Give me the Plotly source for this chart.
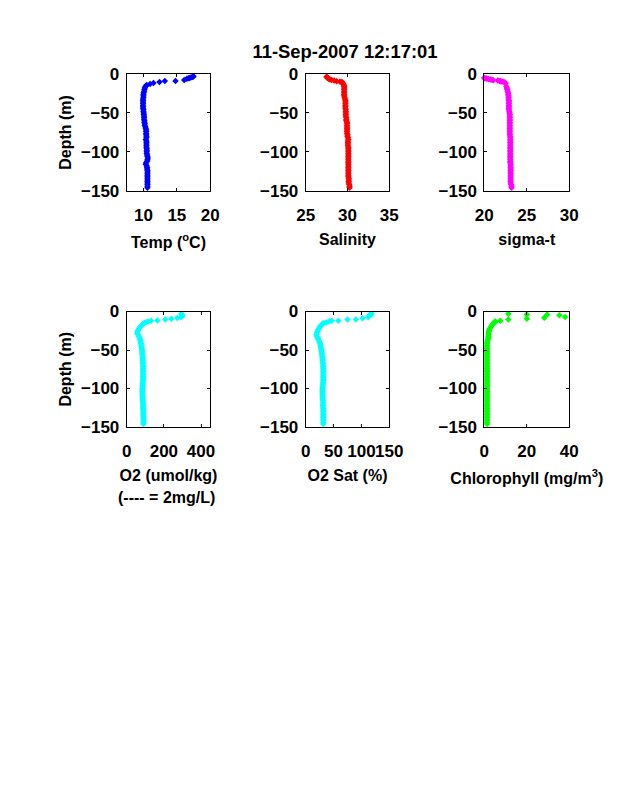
import plotly.graph_objects as go

tail_depth = [16,18,20,22,24,26,28,30,32,34,36,38,40,42,44,46,48,50,52,54,56,58,60,62,64,66,68,70,72,74,76,78,80,82,84,86,88,90,92,94,96,98,100,102,104,106,108,110,112,114,116,118,120,122,124,126,128,130,132,134,136,138,140,142,144,146]

temp_depth = [3,3.5,4,4.5,5,5.5,6,7.7,9,9,10.3,11.5,12.8,14,15] + tail_depth
temp = [17.5,17.4,17.3,17.1,16.9,16.7,16.5,16.1,14.8,13.2,12.4,11.5,11.0,10.5,10.4,
        10.3,10.2,10.15,10.1,10.05,10.0,10.0,10.0,9.95,9.95,
        9.95,9.95,9.95,9.95,9.95,10.0,10.0,10.05,10.05,10.1,
        10.1,10.1,10.15,10.15,10.2,10.2,10.3,10.35,10.4,10.4,
        10.4,10.4,10.45,10.45,10.35,10.45,10.45,10.45,10.45,10.45,
        10.5,10.5,10.5,10.5,10.55,10.6,10.65,10.6,10.55,10.4,
        10.35,10.5,10.55,10.55,10.6,10.6,10.6,10.6,10.6,10.6,
        10.6,10.6,10.6,10.6,10.6,10.6]

sal_depth = [3.4,4,5,5.5,6.4,7,7.7,8.5,9.4,10,10.3,11,12.8,14,15] + tail_depth
salinity = [27.5,27.5,27.6,27.7,27.8,27.9,28.1,28.4,28.7,29.1,29.3,29.4,29.5,29.55,29.6,
            29.6,29.6,29.6,29.6,29.6,29.6,29.6,29.65,29.7,29.75,
            29.75,29.75,29.75,29.75,29.75,29.8,29.8,29.8,29.8,29.8,
            29.85,29.85,29.85,29.95,29.95,29.95,29.95,29.95,29.95,29.95,
            29.95,30.0,30.0,30.05,30.1,30.05,30.05,30.05,30.05,30.1,
            30.1,30.1,30.1,30.1,30.1,30.1,30.1,30.1,30.1,30.1,
            30.1,30.1,30.1,30.1,30.1,30.1,30.1,30.1,30.1,30.15,
            30.15,30.15,30.15,30.2,30.25,30.25]

sigma_depth = [5,5,5.5,6,6.5,7,7.5,8,8.5,9,9.4,9.6,10,10.7,12] + tail_depth
sigma = [20.0,20.0,20.2,20.3,20.5,20.7,20.9,21.05,21.6,21.8,21.9,22.0,22.2,22.4,22.5,
         22.6,22.65,22.7,22.75,22.8,22.8,22.85,22.85,22.85,22.9,
         22.9,22.9,22.9,22.9,22.9,22.9,22.95,22.95,23.0,23.0,
         23.0,23.0,23.0,23.0,23.0,23.0,23.0,23.0,23.0,23.0,
         23.0,23.0,23.05,23.05,23.05,23.05,23.05,23.05,23.05,23.05,
         23.05,23.05,23.05,23.05,23.05,23.05,23.05,23.05,23.05,23.05,
         23.1,23.1,23.1,23.1,23.1,23.1,23.1,23.1,23.1,23.1,
         23.1,23.1,23.1,23.15,23.2,23.2]

o2_depth = [3,4,5,5.5,6,6.5,7,8.5,9.5,10.4,11.7,12,13,14,15] + tail_depth
oxygen = [295,296,297,298,297,296,292,272,240,208,165,131,115,104,95,
          88,80,72,66,62,58,57,60,65,69,
          72,74,75,77,78,79,81,82,83,83,
          84,85,85,86,86,87,87,88,88,88,
          88,88,88,88,88,88,88,87,87,86,
          86,85,85,84,84,84,84,85,85,86,
          86,87,88,88,88,88,89,89,89,89,
          90,90,90,90,90,90]

sat_depth = [3,3.5,4,4.5,5,6,7.4,8.7,10.4,10.4,12,12,13,14,15] + tail_depth
oxygen_sat = [118,117,116,116,115,114,112,102,90,75,58.5,46.6,42,37.5,33,
              30,28,25,24,22,21,20,19.6,20,21.5,
              22.5,24,25,26,26.5,27,27.5,28,28.5,29,
              29,29.5,30,30,30.5,30.5,31,31,31,31.5,
              31.5,31.5,31.5,31.5,31.5,31.5,31.5,31.5,31,31,
              30.5,30.5,30,30,30,30,30,30.5,30.5,30.5,
              31,31,31,31,31,31.5,31.5,31.5,31.5,31.5,
              31.5,31.5,31.5,31.5,31.5,31.5]

chl_depth = [3,4,4,5,7,8,9.5,10.4,12,13,13.5,14,14.5,15,15.5] + tail_depth
chlorophyll = [11.3,20,29.6,35.3,38,28.2,20,11.3,7.5,5.2,5,4.8,4.6,4.5,4.3,
               4.2,3.6,3.0,2.6,2.3,2.1,2.0,2.0,1.9,1.9,
               1.7,1.5,1.4,1.3,1.3,1.3,1.3,1.3,1.3,1.3,
               1.3,1.3,1.3,1.3,1.3,1.3,1.3,1.3,1.3,1.3,
               1.3,1.3,1.3,1.3,1.3,1.3,1.3,1.3,1.3,1.3,
               1.3,1.3,1.3,1.3,1.3,1.3,1.3,1.3,1.3,1.3,
               1.3,1.3,1.3,1.3,1.3,1.3,1.3,1.3,1.3,1.3,
               1.3,1.3,1.3,1.3,1.3,1.3]

titles = ["Temp (<sup>o</sup>C)", "Salinity", "sigma-t", "O2 (umol/kg)", "O2 Sat (%)", "Chlorophyll (mg/m<sup>3</sup>)"]
colors = ["#0000ff", "#ff0000", "#ff00ff", "#00ffff", "#00ffff", "#00ff00"]
xranges = [[7.5, 20], [25, 35], [20, 30], [0, 450], [0, 150], [0, 40]]
xticks = [[10, 15, 20], [25, 30, 35], [20, 25, 30], [0, 200, 400], [0, 50, 100, 150], [0, 20, 40]]
yticks = [0, -50, -100, -150]
xvals = [temp, salinity, sigma, oxygen, oxygen_sat, chlorophyll]
yvals = [temp_depth, sal_depth, sigma_depth, o2_depth, sat_depth, chl_depth]

W, H = 638, 788
lefts = [(126.7, 210.3), (305.7, 389.3), (484.3, 569.3)]
rows = [(74, 190.8), (311.5, 427)]
FONT = "Liberation Sans"
title_standoff = [12, 9, 9, 9, 9, 12]

fig = go.Figure()
for i in range(6):
    n = i + 1
    col = lefts[i % 3]
    row = rows[i // 3]
    fig.add_trace(go.Scatter(
        x=xvals[i], y=[-d for d in yvals[i]], mode="markers", showlegend=False, cliponaxis=False,
        marker=dict(symbol="diamond", size=5, color=colors[i], line=dict(width=0)),
        xaxis=f"x{n}", yaxis=f"y{n}"))
    common = dict(showgrid=False, zeroline=False, showline=True, linecolor="black", linewidth=1, automargin=False,
                  mirror="ticks", ticks="inside", ticklen=3, tickcolor="black",
                  tickfont=dict(size=17, family=FONT, color="black", weight="bold"))
    fig.layout[f"xaxis{n}"] = dict(
        domain=[col[0] / W, col[1] / W], range=xranges[i], tickvals=xticks[i], anchor=f"y{n}", tickangle=0,
        ticklabelstandoff=9,
        title=dict(text=titles[i], standoff=title_standoff[i], font=dict(size=16, family=FONT, color="black", weight="bold")), **common)
    fig.layout[f"yaxis{n}"] = dict(
        domain=[1 - row[1] / H, 1 - row[0] / H], range=[-150, 0], tickvals=yticks, anchor=f"x{n}",
        ticklabelstandoff=3,
        title=dict(text="Depth (m)" if i % 3 == 0 else "", standoff=5, font=dict(size=16, family=FONT, color="black", weight="bold")), **common)

fig.add_annotation(text="(---- = 2mg/L)", xref="paper", yref="paper", x=166 / W, y=1 - 497 / H, showarrow=False,
                   xanchor="center", yanchor="middle", font=dict(size=16, family=FONT, color="black", weight="bold"))

fig.update_layout(
    width=W, height=H, margin=dict(l=0, r=0, t=0, b=0), paper_bgcolor="white", plot_bgcolor="white",
    font=dict(family=FONT, color="black"),
    title=dict(text="<b>11-Sep-2007 12:17:01</b>", x=345 / W, xanchor="center", y=1 - 52 / H, yanchor="middle",
               font=dict(size=18.4, family=FONT, color="black")))
fig.write_html("out.html", config=dict(displayModeBar=False), post_script="document.body.style.margin='0';")
